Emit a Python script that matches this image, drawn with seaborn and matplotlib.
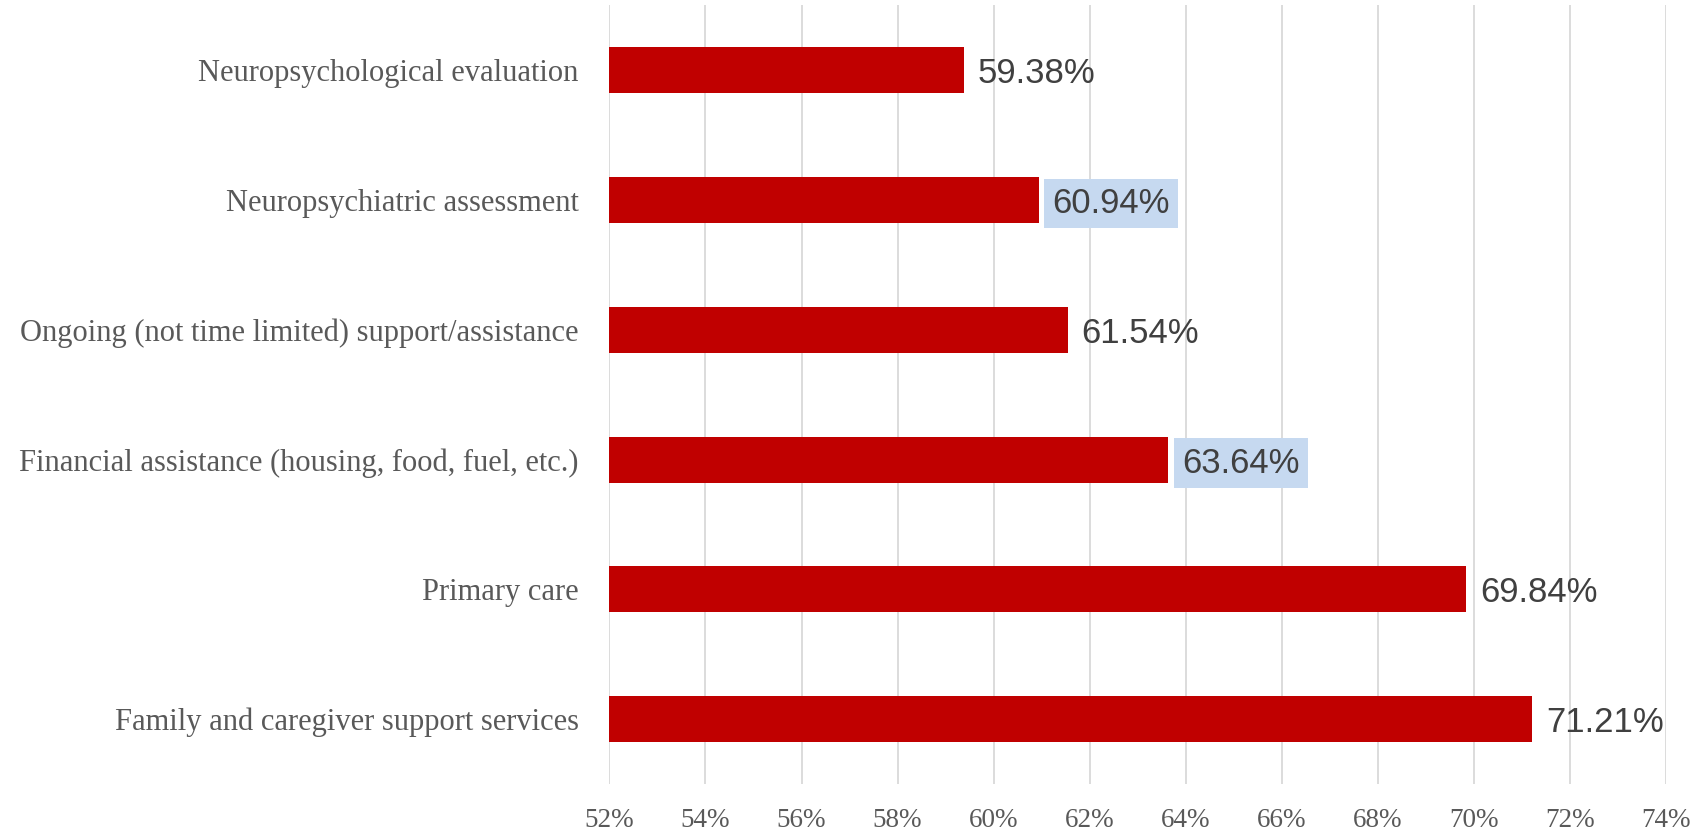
import matplotlib
matplotlib.use("Agg")
import matplotlib.pyplot as plt
import seaborn as sns
import pandas as pd
from matplotlib.ticker import FuncFormatter, MultipleLocator

# data
services = [
    "Neuropsychological evaluation",
    "Neuropsychiatric assessment",
    "Ongoing (not time limited) support/assistance",
    "Financial assistance (housing, food, fuel, etc.)",
    "Primary care",
    "Family and caregiver support services",
]
pct = [59.38, 60.94, 61.54, 63.64, 69.84, 71.21]
highlighted = [False, True, False, True, False, False]

df = pd.DataFrame({"service": services, "pct": pct})

sns.set_theme(style="white")

fig = plt.figure(figsize=(17.07, 8.39), dpi=100)
ax = fig.add_axes([0.357, 0.0656, 0.619, 0.928])

sns.barplot(data=df, y="service", x="pct", orient="h", color="#C00000",
            width=0.355, saturation=1, edgecolor="none", ax=ax)

ax.set_xlim(52, 74)
ax.xaxis.set_major_locator(MultipleLocator(2))
ax.xaxis.set_major_formatter(FuncFormatter(lambda v, p: f"{v:.0f}%"))
ax.set_ylim(5.5, -0.5)
ax.grid(axis="x", color="#D9D9D9", linewidth=1.3)
ax.set_axisbelow(True)
for s in ax.spines.values():
    s.set_visible(False)
ax.set_xlabel("")
ax.set_ylabel("")
ax.tick_params(axis="y", length=0, pad=22, labelsize=22, labelcolor="#595959")
ax.tick_params(axis="x", length=0, pad=17, labelsize=19.5, labelcolor="#595959")
for lbl in ax.get_yticklabels() + ax.get_xticklabels():
    lbl.set_fontfamily("Liberation Serif")

for i, (v, hl) in enumerate(zip(pct, highlighted)):
    box = dict(boxstyle="square,pad=0.24", fc="#C6D9F0", ec="none") if hl else None
    ax.annotate(f"{v:.2f}%", xy=(v, i), xytext=(10, 0), textcoords="offset points",
                va="center_baseline", ha="left", fontsize=25, color="#404040",
                family="Liberation Sans", bbox=box)

fig.savefig("out.png", dpi=100)
